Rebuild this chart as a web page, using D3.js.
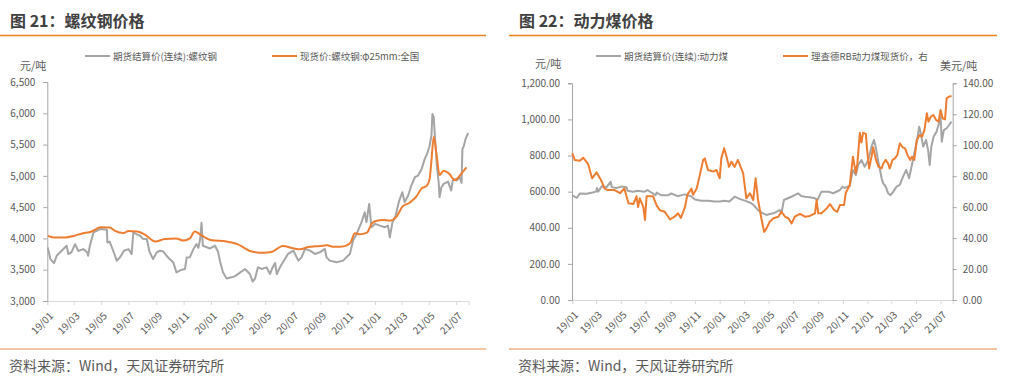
<!DOCTYPE html>
<html><head><meta charset="utf-8">
<script src="https://cdn.jsdelivr.net/npm/d3@7"></script>
<style>
html,body{margin:0;padding:0;background:#fff;}
svg{display:block;font-family:"Microsoft YaHei","Noto Sans CJK SC","Noto Sans",sans-serif;}
</style></head>
<body>
<svg id="c" width="1017" height="383"></svg>
<script>
// ---------------- DATA ----------------
const titles = ["图 21：螺纹钢价格", "图 22：动力煤价格"];
const sourceText = "资料来源：Wind，天风证券研究所";
const rebarLegend = ["期货结算价(连续):螺纹钢", "现货价:螺纹钢:φ25mm:全国"];
const coalLegend = ["期货结算价(连续):动力煤", "理查德RB动力煤现货价，右"];
const unitsLeft = "元/吨";
const unitsRight = "美元/吨";
const rebarTicks = [3000, 3500, 4000, 4500, 5000, 5500, 6000, 6500];
const coalTicksL = [0, 200, 400, 600, 800, 1000, 1200];
const coalTicksR = [0, 20, 40, 60, 80, 100, 120, 140];

// Rebar futures (RMB/t)
const rbFutDates = ["2019-01-02","2019-01-08","2019-01-16","2019-01-22","2019-02-02","2019-02-13","2019-02-17","2019-02-24","2019-03-04","2019-03-11","2019-03-22","2019-03-31","2019-04-02","2019-04-06","2019-04-14","2019-04-21","2019-04-29","2019-05-14","2019-05-15","2019-05-20","2019-05-28","2019-06-05","2019-06-12","2019-06-21","2019-07-01","2019-07-08","2019-07-12","2019-07-19","2019-07-27","2019-08-03","2019-08-11","2019-08-17","2019-08-25","2019-09-02","2019-09-09","2019-09-17","2019-09-24","2019-10-01","2019-10-09","2019-10-16","2019-10-28","2019-11-04","2019-11-08","2019-11-15","2019-11-23","2019-11-30","2019-12-04","2019-12-08","2019-12-11","2019-12-14","2019-12-30","2020-01-10","2020-01-17","2020-01-21","2020-01-28","2020-02-05","2020-02-16","2020-02-23","2020-03-05","2020-03-17","2020-03-28","2020-04-03","2020-04-08","2020-04-15","2020-04-23","2020-05-04","2020-05-12","2020-05-16","2020-05-23","2020-05-27","2020-06-03","2020-06-14","2020-06-21","2020-07-03","2020-07-14","2020-07-21","2020-07-29","2020-08-09","2020-08-20","2020-08-31","2020-09-11","2020-09-15","2020-09-22","2020-10-07","2020-10-22","2020-10-29","2020-11-06","2020-11-13","2020-11-21","2020-12-02","2020-12-09","2020-12-13","2020-12-19","2020-12-24","2021-01-01","2021-01-12","2021-01-23","2021-01-30","2021-02-03","2021-02-09","2021-02-16","2021-02-24","2021-03-03","2021-03-08","2021-03-16","2021-03-23","2021-03-31","2021-04-07","2021-04-15","2021-04-22","2021-04-27","2021-05-02","2021-05-07","2021-05-09","2021-05-12","2021-05-15","2021-05-19","2021-05-23","2021-05-25","2021-05-29","2021-06-03","2021-06-13","2021-06-20","2021-06-24","2021-07-02","2021-07-09","2021-07-13","2021-07-15","2021-07-18","2021-07-22","2021-07-28"];
const rbFutValues = [3856,3670,3606,3723,3803,3883,3750,3780,3910,3800,3830,3777,3723,3883,4096,4122,4150,4138,3936,3950,3803,3644,3697,3803,3830,3750,4096,4070,4043,3989,3990,3787,3670,3777,3803,3790,3723,3670,3617,3457,3500,3510,3697,3700,3830,3910,3850,3990,4250,3883,3840,3883,3787,3644,3457,3361,3378,3394,3450,3512,3432,3310,3352,3538,3512,3538,3432,3512,3608,3432,3538,3672,3752,3805,3645,3698,3832,3805,3752,3778,3832,3698,3645,3618,3645,3698,3752,3965,4072,4259,4418,4259,4552,4179,4232,4205,4179,4205,4019,4259,4365,4605,4738,4579,4685,4845,4978,5005,5111,5271,5350,5457,5644,5990,5937,5590,5164,4898,4658,4818,4872,4909,4765,4952,4925,4978,4888,5431,5473,5590,5686];

// Rebar spot φ25mm national (RMB/t)
const rbSpotDates = ["2019-01-02","2019-01-15","2019-02-10","2019-03-01","2019-03-20","2019-04-10","2019-04-20","2019-05-01","2019-05-20","2019-06-01","2019-06-20","2019-07-01","2019-07-20","2019-08-05","2019-08-30","2019-09-20","2019-10-15","2019-11-01","2019-11-15","2019-11-26","2019-12-07","2019-12-31","2020-02-05","2020-02-29","2020-03-15","2020-03-28","2020-04-27","2020-05-17","2020-05-29","2020-06-09","2020-07-03","2020-07-18","2020-08-03","2020-08-31","2020-09-16","2020-09-29","2020-10-15","2020-10-30","2020-11-08","2020-11-17","2020-11-28","2020-12-14","2020-12-25","2021-01-05","2021-01-18","2021-02-03","2021-02-18","2021-03-03","2021-03-19","2021-04-03","2021-04-15","2021-04-26","2021-05-03","2021-05-07","2021-05-12","2021-05-18","2021-05-25","2021-06-03","2021-06-16","2021-06-27","2021-07-04","2021-07-13","2021-07-24"];
const rbSpotValues = [4040,4015,4015,4040,4080,4110,4150,4180,4175,4120,4085,4120,4110,4070,3950,3990,4000,3965,4000,4110,4070,3975,3950,3910,3850,3800,3770,3788,3842,3879,3842,3826,3858,3879,3890,3869,3869,3890,3938,4082,4066,4093,4241,4284,4294,4284,4348,4507,4571,4667,4800,4838,4960,5253,5626,5360,5013,5082,5029,4934,4960,5040,5136];

// Thermal coal futures (RMB/t, left axis)
const coalFutDates = ["2019-01-01","2019-01-12","2019-01-20","2019-02-06","2019-02-20","2019-03-01","2019-03-03","2019-03-06","2019-03-15","2019-03-27","2019-04-06","2019-04-09","2019-04-20","2019-05-03","2019-05-15","2019-05-18","2019-05-31","2019-06-12","2019-06-29","2019-07-06","2019-07-19","2019-07-26","2019-07-29","2019-08-09","2019-08-26","2019-09-03","2019-09-19","2019-10-06","2019-10-22","2019-11-01","2019-11-16","2019-12-03","2019-12-19","2020-01-01","2020-01-13","2020-01-25","2020-02-07","2020-02-19","2020-03-03","2020-03-15","2020-03-23","2020-04-04","2020-04-10","2020-04-17","2020-04-26","2020-05-04","2020-05-13","2020-05-21","2020-05-29","2020-06-02","2020-06-08","2020-06-12","2020-07-01","2020-07-13","2020-07-21","2020-07-30","2020-08-11","2020-08-24","2020-08-30","2020-09-09","2020-09-26","2020-10-08","2020-10-25","2020-10-31","2020-11-05","2020-11-18","2020-11-26","2020-12-03","2020-12-09","2020-12-17","2020-12-25","2021-01-03","2021-01-11","2021-01-17","2021-01-22","2021-01-27","2021-02-01","2021-02-05","2021-02-09","2021-02-15","2021-02-21","2021-02-27","2021-03-06","2021-03-14","2021-03-22","2021-03-30","2021-04-07","2021-04-14","2021-04-20","2021-04-28","2021-05-04","2021-05-09","2021-05-12","2021-05-19","2021-05-26","2021-05-31","2021-06-04","2021-06-08","2021-06-14","2021-06-21","2021-06-27","2021-07-01","2021-07-04","2021-07-09","2021-07-16","2021-07-22","2021-07-28"];
const coalFutValues = [580,565,590,588,595,600,620,600,630,625,655,625,620,628,625,605,600,605,600,609,590,580,595,580,580,590,575,585,575,557,550,550,545,545,550,545,572,560,550,540,530,500,489,480,471,476,480,489,498,480,554,558,576,591,576,572,569,563,554,600,600,591,609,628,620,631,720,692,748,775,738,775,849,886,840,775,720,674,646,628,591,581,600,628,637,683,720,674,738,822,886,960,932,849,886,831,748,849,905,932,978,1015,877,941,951,969,988];

// Richards Bay thermal coal spot (USD/t, right axis)
const coalSpotDates = ["2019-01-01","2019-01-07","2019-01-20","2019-01-28","2019-02-09","2019-02-19","2019-03-02","2019-03-14","2019-03-22","2019-03-30","2019-04-16","2019-04-29","2019-05-10","2019-05-20","2019-06-01","2019-06-09","2019-06-13","2019-06-17","2019-06-26","2019-06-30","2019-07-04","2019-07-20","2019-07-29","2019-08-06","2019-08-18","2019-08-31","2019-09-12","2019-09-20","2019-09-27","2019-10-07","2019-10-13","2019-10-23","2019-10-27","2019-11-05","2019-11-13","2019-11-21","2019-11-25","2019-12-03","2019-12-16","2019-12-24","2020-01-01","2020-01-05","2020-01-12","2020-01-18","2020-01-24","2020-01-30","2020-02-07","2020-02-15","2020-02-28","2020-03-07","2020-03-16","2020-03-24","2020-03-30","2020-04-05","2020-04-14","2020-04-20","2020-04-26","2020-05-04","2020-05-13","2020-05-25","2020-06-02","2020-06-11","2020-06-19","2020-06-27","2020-07-05","2020-07-18","2020-07-30","2020-08-11","2020-08-24","2020-08-28","2020-09-01","2020-09-09","2020-09-22","2020-09-30","2020-10-10","2020-10-18","2020-10-25","2020-11-04","2020-11-08","2020-11-14","2020-11-18","2020-11-26","2020-12-03","2020-12-07","2020-12-13","2020-12-17","2020-12-21","2020-12-28","2020-12-31","2021-01-05","2021-01-11","2021-01-15","2021-01-22","2021-01-28","2021-02-05","2021-02-09","2021-02-15","2021-02-21","2021-02-25","2021-03-04","2021-03-10","2021-03-16","2021-03-22","2021-03-29","2021-04-04","2021-04-10","2021-04-17","2021-04-21","2021-04-27","2021-05-03","2021-05-10","2021-05-16","2021-05-22","2021-05-28","2021-06-01","2021-06-07","2021-06-13","2021-06-20","2021-06-26","2021-07-01","2021-07-06","2021-07-12","2021-07-16","2021-07-22","2021-07-28"];
const coalSpotValues = [95,90.5,90,92,88,78.6,82.5,77,72,71,71,69,72,62.5,62,67,60,65.7,60,51.7,67,67,61,58,57,52,54,56,53,60,68,72,68,72,81,90.5,91.5,84,83,84,78.6,91.5,98,92.6,86,89.4,86,90.5,82,65.7,69,64.6,78.6,64.6,51.7,44,46.3,50.6,52.8,53.8,57,53.8,52.8,49.5,53.8,55.6,53.8,54.3,56,64.6,56,56,59.2,62,58.2,57,61.4,61.4,69,72.2,74.3,92.6,81.9,88.3,108,101.7,108,107.3,97,85,92.6,98.7,90.5,86.2,85,88,90.5,88.3,85,90.5,91.5,93.7,101.2,98.7,98,93.7,90.5,92.6,90.5,103.4,106.6,105.5,109.8,120.6,115.2,118.5,119.5,116.3,115.2,122.8,117.4,116.7,130.3,131.4,131.8];

// ---------------- DRAW ----------------
const parse = d3.timeParse("%Y-%m-%d");
const zip = (ds, vs) => ds.map((d, i) => ({ date: parse(d), value: vs[i] }));
const GRAY = "#A5A5A5", ORANGE = "#ED7D31", TEXT = "#595959";
const svg = d3.select("#c");
const fmtMonth = d3.timeFormat("%y/%m");

function header(x0, x1, title) {
  svg.append("text").attr("x", x0 + 10).attr("y", 27).attr("font-size", 16).attr("font-weight", "bold")
    .attr("fill", "#404040").text(title);
  svg.append("line").attr("x1", x0).attr("x2", x1).attr("y1", 35.5).attr("y2", 35.5)
    .attr("stroke", "#F0821E").attr("stroke-width", 1.3);
  svg.append("line").attr("x1", x0).attr("x2", x1).attr("y1", 349).attr("y2", 349)
    .attr("stroke", "#E58A45").attr("stroke-width", 1.2);
  svg.append("text").attr("x", x0 + 9).attr("y", 371).attr("font-size", 14).attr("fill", TEXT).text(sourceText);
}

function legendItem(x, y, color, label) {
  svg.append("line").attr("x1", x).attr("x2", x + 25).attr("y1", y).attr("y2", y)
    .attr("stroke", color).attr("stroke-width", 2);
  svg.append("text").attr("x", x + 28).attr("y", y + 3.5).attr("font-size", 9.5).attr("fill", TEXT).text(label);
}

function xAxis(x, yPos) {
  const g = svg.append("g").attr("transform", `translate(0,${yPos})`)
    .call(d3.axisBottom(x).ticks(d3.timeMonth.every(2)).tickFormat(fmtMonth).tickSizeOuter(0).tickSize(4));
  g.select(".domain").attr("stroke", "#D9D9D9");
  g.selectAll(".tick line").attr("stroke", "#D9D9D9");
  g.selectAll(".tick text").attr("font-size", 10).attr("fill", TEXT)
    .attr("font-family", "'Microsoft YaHei','Noto Sans CJK SC',sans-serif")
    .attr("text-anchor", "end").attr("transform", "translate(-2,6) rotate(-45)")
    .attr("dy", "0.55em").attr("dx", "-0.1em");
}

function styleY(g) {
  g.select(".domain").attr("stroke", "#A6A6A6");
  g.selectAll(".tick line").attr("stroke", "#A6A6A6");
  g.selectAll(".tick text").attr("font-size", 10).attr("fill", TEXT)
    .attr("font-family", "'Microsoft YaHei','Noto Sans CJK SC',sans-serif");
}

// ---- Chart 1: rebar ----
header(0, 486, titles[0]);
legendItem(85, 56, GRAY, rebarLegend[0]);
legendItem(272, 56, ORANGE, rebarLegend[1]);
svg.append("text").attr("x", 20).attr("y", 70).attr("font-size", 11).attr("fill", TEXT).text(unitsLeft);
{
  const x = d3.scaleTime().domain([parse("2019-01-01"), parse("2021-07-29")]).range([47.3, 468.7]);
  const y = d3.scaleLinear().domain([3000, 6500]).range([301, 82]);
  xAxis(x, 301);
  const gy = svg.append("g").attr("transform", "translate(47.3,0)")
    .call(d3.axisLeft(y).tickValues(rebarTicks).tickFormat(d3.format(",")).tickSizeOuter(0).tickSize(4).tickPadding(8));
  styleY(gy);
  const line = d3.line().x(d => x(d.date)).y(d => y(d.value));
  svg.append("path").datum(zip(rbFutDates, rbFutValues)).attr("d", line)
    .attr("fill", "none").attr("stroke", GRAY).attr("stroke-width", 2).attr("stroke-linejoin", "round");
  svg.append("path").datum(zip(rbSpotDates, rbSpotValues)).attr("d", line.curve(d3.curveMonotoneX))
    .attr("fill", "none").attr("stroke", ORANGE).attr("stroke-width", 2).attr("stroke-linejoin", "round");
}

// ---- Chart 2: thermal coal ----
header(509, 997, titles[1]);
legendItem(596, 56, GRAY, coalLegend[0]);
legendItem(783, 56, ORANGE, coalLegend[1]);
svg.append("text").attr("x", 535).attr("y", 68).attr("font-size", 11).attr("fill", TEXT).text(unitsLeft);
svg.append("text").attr("x", 940).attr("y", 70).attr("font-size", 11).attr("fill", TEXT).text(unitsRight);
{
  const x = d3.scaleTime().domain([parse("2019-01-01"), parse("2021-07-31")]).range([572.3, 952.7]);
  const yL = d3.scaleLinear().domain([0, 1200]).range([300, 83.3]);
  const yR = d3.scaleLinear().domain([0, 140]).range([300, 83.3]);
  xAxis(x, 300);
  const gl = svg.append("g").attr("transform", "translate(572,0)")
    .call(d3.axisLeft(yL).tickValues(coalTicksL).tickFormat(d3.format(",.2f")).tickSizeOuter(0).tickSize(4).tickPadding(8));
  styleY(gl);
  const gr = svg.append("g").attr("transform", "translate(952.7,0)")
    .call(d3.axisRight(yR).tickValues(coalTicksR).tickFormat(d3.format(".2f")).tickSizeOuter(0).tickSize(4).tickPadding(6));
  styleY(gr);
  const lineL = d3.line().x(d => x(d.date)).y(d => yL(d.value));
  const lineR = d3.line().x(d => x(d.date)).y(d => yR(d.value));
  svg.append("path").datum(zip(coalFutDates, coalFutValues)).attr("d", lineL)
    .attr("fill", "none").attr("stroke", GRAY).attr("stroke-width", 2).attr("stroke-linejoin", "round");
  svg.append("path").datum(zip(coalSpotDates, coalSpotValues)).attr("d", lineR)
    .attr("fill", "none").attr("stroke", ORANGE).attr("stroke-width", 2).attr("stroke-linejoin", "round");
}
</script>
</body></html>
